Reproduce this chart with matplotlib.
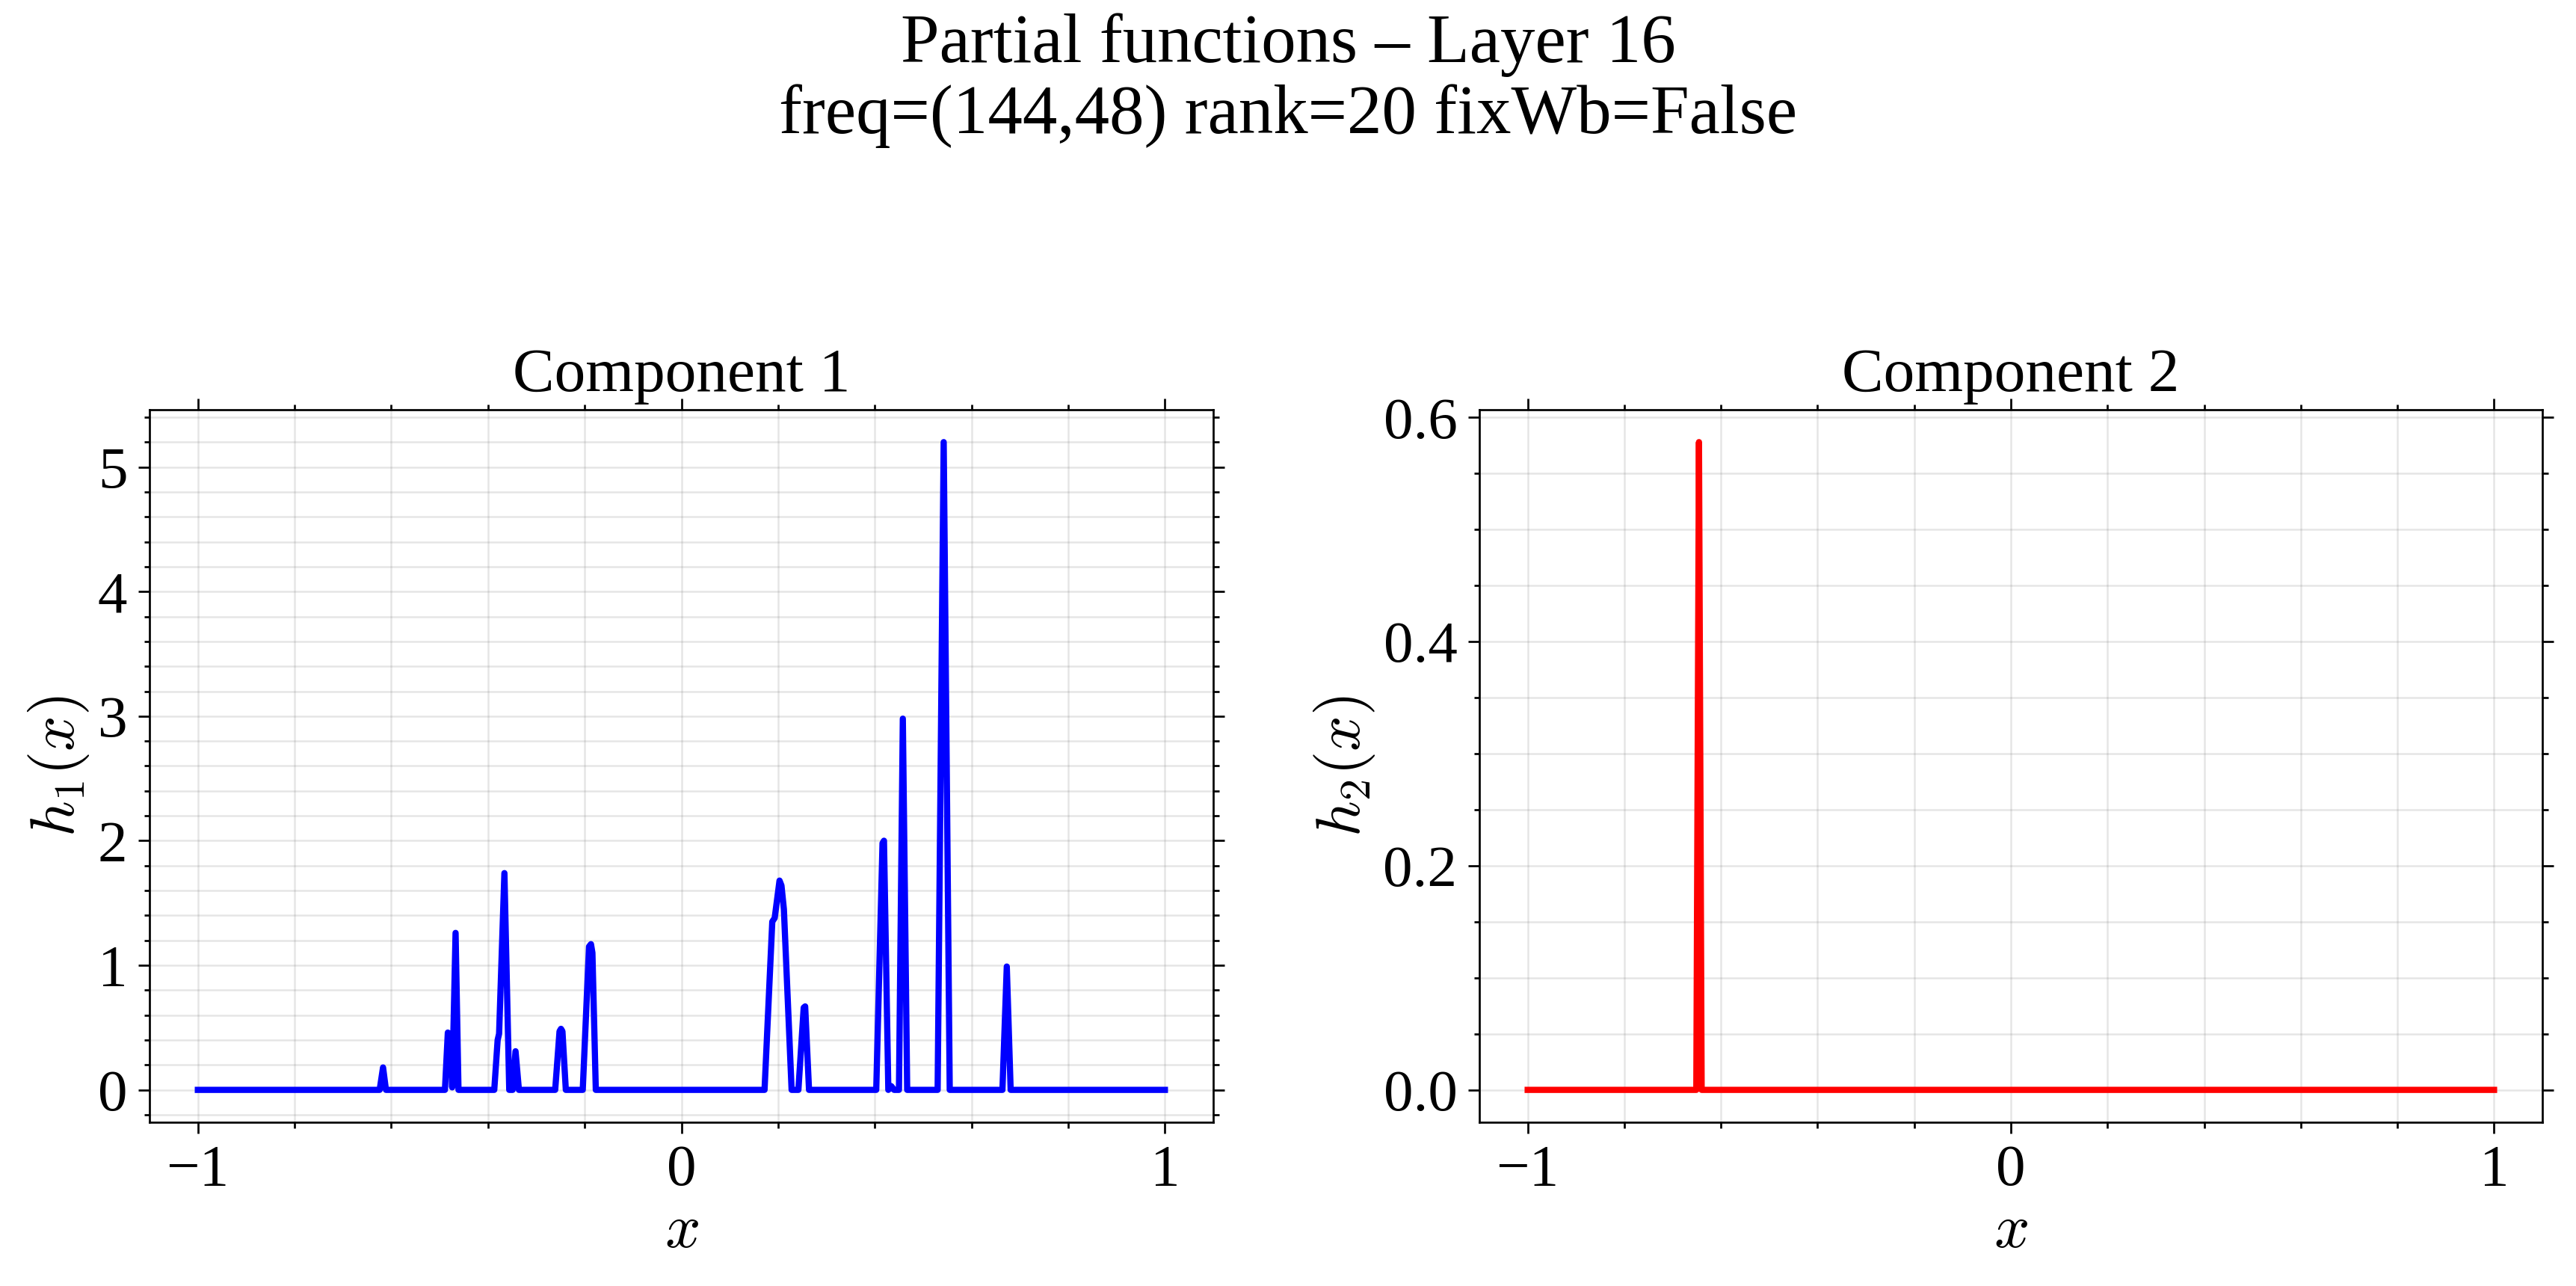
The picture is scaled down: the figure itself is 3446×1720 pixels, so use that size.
import matplotlib
matplotlib.use("Agg")
import matplotlib.pyplot as plt
from matplotlib.ticker import AutoMinorLocator

# ---------------- data ----------------
h1_x = [-1.0,
        -0.624, -0.617, -0.611,
        -0.489, -0.483, -0.478, -0.474, -0.467, -0.461,
        -0.387, -0.380, -0.377, -0.366, -0.356, -0.349, -0.343, -0.336,
        -0.261, -0.252, -0.249, -0.246, -0.239,
        -0.204, -0.191, -0.187, -0.184, -0.177,
        0.172, 0.188, 0.193, 0.203, 0.207, 0.212, 0.228,
        0.242, 0.253, 0.256, 0.264,
        0.403, 0.416, 0.419, 0.428, 0.434, 0.440,
        0.450, 0.458, 0.467,
        0.530, 0.5425, 0.555,
        0.664, 0.673, 0.681,
        1.0]
h1_y = [0.0,
        0.0, 0.18, 0.0,
        0.0, 0.46, 0.44, 0.02, 1.26, 0.0,
        0.0, 0.40, 0.45, 1.74, 0.0, 0.0, 0.31, 0.0,
        0.0, 0.47, 0.49, 0.47, 0.0,
        0.0, 1.15, 1.17, 1.10, 0.0,
        0.0, 1.35, 1.38, 1.68, 1.64, 1.45, 0.0,
        0.0, 0.66, 0.67, 0.0,
        0.0, 1.98, 2.00, 0.0, 0.03, 0.0,
        0.0, 2.98, 0.0,
        0.0, 5.20, 0.0,
        0.0, 0.99, 0.0,
        0.0]

h2_x = [-1.0, -0.651, -0.6455, -0.640, 1.0]
h2_y = [0.0, 0.0, 0.578, 0.0, 0.0]

x_ticks = [-1, 0, 1]
suptitle = "Partial functions \u2013 Layer 16\nfreq=(144,48) rank=20 fixWb=False"
titles = ["Component 1", "Component 2"]
ylabels = [r"$h_1(x)$", r"$h_2(x)$"]
colors = ["blue", "red"]

# ---------------- style ----------------
plt.rcParams["font.family"] = ["Liberation Serif", "DejaVu Serif"]
plt.rcParams["mathtext.fontset"] = "cm"
plt.rcParams["axes.unicode_minus"] = True

fig = plt.figure(figsize=(3446 / 300, 1720 / 300), dpi=300)
ax1 = fig.add_axes([0.05804, 0.12733, 0.41294, 0.55407])
ax2 = fig.add_axes([0.57429, 0.12733, 0.41265, 0.55407])

series = [(h1_x, h1_y), (h2_x, h2_y)]
for i, ax in enumerate([ax1, ax2]):
    xs, ys = series[i]
    ax.plot(xs, ys, color=colors[i], lw=2.0)
    ax.set_xticks(x_ticks)
    ax.xaxis.set_minor_locator(AutoMinorLocator())
    ax.yaxis.set_minor_locator(AutoMinorLocator())
    ax.grid(True, which="both", color="gray", alpha=0.2, lw=0.6)
    ax.tick_params(which="both", direction="out", top=True, right=True,
                   width=0.65, labelsize=19)
    ax.tick_params(which="major", length=3.6)
    ax.tick_params(which="minor", length=1.8)
    for sp in ax.spines.values():
        sp.set_linewidth(0.65)
    ax.set_title(titles[i], fontsize=20, pad=6)
    ax.set_xlabel(r"$x$", fontsize=20, labelpad=2)
    ax.set_ylabel(ylabels[i], fontsize=20, labelpad=2)

fig.suptitle(suptitle, fontsize=22.3, y=0.99, linespacing=1.15)

fig.savefig("out.png", dpi=300)
